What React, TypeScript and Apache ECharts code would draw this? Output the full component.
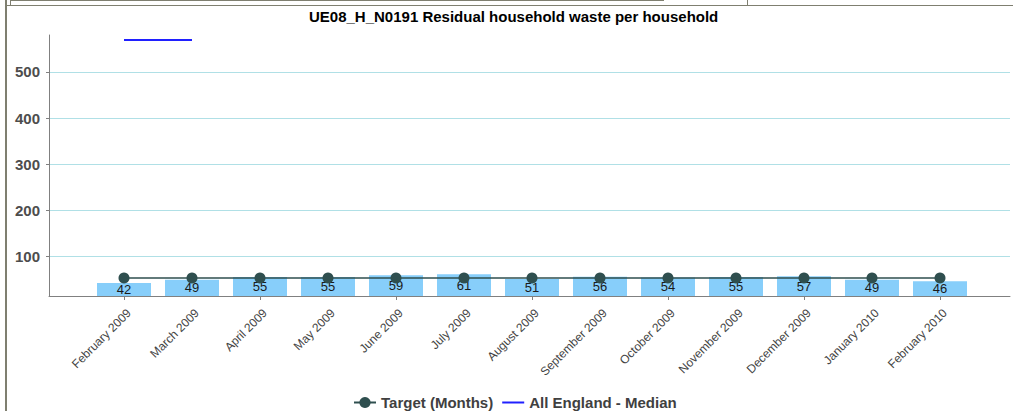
import React, { useEffect, useRef } from "react";
import * as echarts from "echarts";

// Monthly categories on the x axis
const categories = [
  "February 2009",
  "March 2009",
  "April 2009",
  "May 2009",
  "June 2009",
  "July 2009",
  "August 2009",
  "September 2009",
  "October 2009",
  "November 2009",
  "December 2009",
  "January 2010",
  "February 2010",
];

// Residual household waste per household (kg), one bar per month
const residualWaste = [42, 49, 55, 55, 59, 61, 51, 56, 54, 55, 57, 49, 46];

// Target line (months)
const targetMonths = [53, 53, 53, 53, 53, 53, 53, 53, 53, 53, 53, 53, 53];

// All England median, only reported for the first two months
const englandMedian = [569, 569, null, null, null, null, null, null, null, null, null, null, null];

// Value axis range
const yMin = 14;
const yMax = 580;

const TITLE = "UE08_H_N0191 Residual household waste per household";
const TARGET_NAME = "Target (Months)";
const MEDIAN_NAME = "All England - Median";

const FONT = "'Liberation Sans', Arial, sans-serif";
const FRAME = "#7f7f70";

export default function App() {
  const ref = useRef<HTMLDivElement>(null);

  useEffect(() => {
    if (!ref.current) return;
    const chart = echarts.init(ref.current, undefined, { renderer: "svg" });

    const top = 35;
    const bottom = 115;
    // category bands are inset from the full-width axis line
    const bandLeft = 90;
    const bandRight = 39;
    // month labels hang slightly to the right of their ticks
    const labelShift = 5;

    chart.setOption({
      animation: false,
      backgroundColor: "#ffffff",
      textStyle: { fontFamily: FONT },
      title: {
        text: TITLE,
        left: 309,
        top: 9,
        padding: 0,
        textStyle: { fontSize: 15, fontWeight: "bold", color: "#000000", fontFamily: FONT },
      },
      legend: {
        data: [
          { name: TARGET_NAME },
          { name: MEDIAN_NAME, itemStyle: { opacity: 0 } },
        ],
        left: 353,
        top: 395,
        padding: 0,
        itemWidth: 22,
        itemHeight: 14,
        itemGap: 8,
        textStyle: { fontSize: 15, fontWeight: "bold", color: "#404040", fontFamily: FONT },
      },
      grid: [
        // frame grid: full-width axis lines and gridlines
        { left: 49, right: 3, top, bottom },
        // data grid
        { left: bandLeft, right: bandRight, top, bottom },
        // month label grid
        { left: bandLeft + labelShift, right: bandRight - labelShift, top, bottom },
      ],
      xAxis: [
        {
          type: "value",
          gridIndex: 0,
          min: 0,
          max: 1,
          axisLine: { show: true, lineStyle: { color: "#808080", width: 1 } },
          axisTick: { show: false },
          axisLabel: { show: false },
          splitLine: { show: false },
        },
        {
          type: "category",
          gridIndex: 1,
          data: categories,
          boundaryGap: true,
          axisLine: { show: false },
          axisTick: { show: true, alignWithLabel: true, length: 4, lineStyle: { color: "#808080" } },
          axisLabel: { show: false },
          splitLine: { show: false },
        },
        {
          type: "category",
          gridIndex: 2,
          data: categories,
          boundaryGap: true,
          axisLine: { show: false },
          axisTick: { show: false },
          axisLabel: {
            rotate: 45,
            interval: 0,
            margin: 15,
            fontSize: 12,
            color: "#444444",
            fontFamily: FONT,
          },
          splitLine: { show: false },
        },
      ],
      yAxis: [
        {
          type: "value",
          gridIndex: 0,
          min: yMin,
          max: yMax,
          splitNumber: 5,
          axisLine: { show: true, lineStyle: { color: "#808080", width: 1 } },
          axisTick: { show: true, length: 3, lineStyle: { color: "#808080" } },
          axisLabel: {
            showMinLabel: false,
            showMaxLabel: false,
            margin: 9,
            fontSize: 15,
            fontWeight: "bold",
            color: "#4d4d4d",
            fontFamily: FONT,
          },
          splitLine: {
            show: true,
            showMinLine: false,
            showMaxLine: false,
            lineStyle: { color: "#b0e0e6", width: 1 },
          },
        },
        {
          type: "value",
          gridIndex: 1,
          min: yMin,
          max: yMax,
          show: false,
          splitLine: { show: false },
        },
        {
          type: "value",
          gridIndex: 2,
          min: yMin,
          max: yMax,
          show: false,
          splitLine: { show: false },
        },
      ],
      series: [
        {
          name: "Residual household waste",
          type: "bar",
          xAxisIndex: 1,
          yAxisIndex: 1,
          data: residualWaste,
          barWidth: 54,
          z: 2,
          itemStyle: { color: "#87cefa" },
          label: {
            show: true,
            position: "inside",
            fontSize: 13,
            color: "#1a1a1a",
            fontFamily: FONT,
          },
        },
        {
          name: TARGET_NAME,
          type: "line",
          xAxisIndex: 1,
          yAxisIndex: 1,
          data: targetMonths,
          z: 5,
          symbol: "circle",
          symbolSize: 11,
          lineStyle: { color: "#2f4f4f", width: 1.5 },
          itemStyle: { color: "#2f4f4f" },
        },
        {
          name: MEDIAN_NAME,
          type: "line",
          xAxisIndex: 1,
          yAxisIndex: 1,
          data: englandMedian,
          z: 5,
          symbol: "none",
          connectNulls: false,
          lineStyle: { color: "#2020ff", width: 2 },
          itemStyle: { color: "#2020ff" },
        },
      ],
      graphic: [
        // page frame around the chart
        { type: "rect", shape: { x: 5, y: 0, width: 2, height: 411 }, style: { fill: FRAME }, silent: true },
        { type: "rect", shape: { x: 7, y: 5, width: 1006, height: 1 }, style: { fill: FRAME }, silent: true },
        { type: "rect", shape: { x: 10, y: 0, width: 654, height: 1 }, style: { fill: FRAME }, silent: true },
        { type: "rect", shape: { x: 10, y: 0, width: 1, height: 5 }, style: { fill: FRAME }, silent: true },
        { type: "rect", shape: { x: 747, y: 0, width: 1, height: 5 }, style: { fill: FRAME }, silent: true },
      ],
    });

    return () => {
      chart.dispose();
    };
  }, []);

  return (
    <div
      ref={ref}
      style={{ position: "absolute", left: 0, top: 0, width: 1013, height: 411, background: "#ffffff" }}
    />
  );
}
